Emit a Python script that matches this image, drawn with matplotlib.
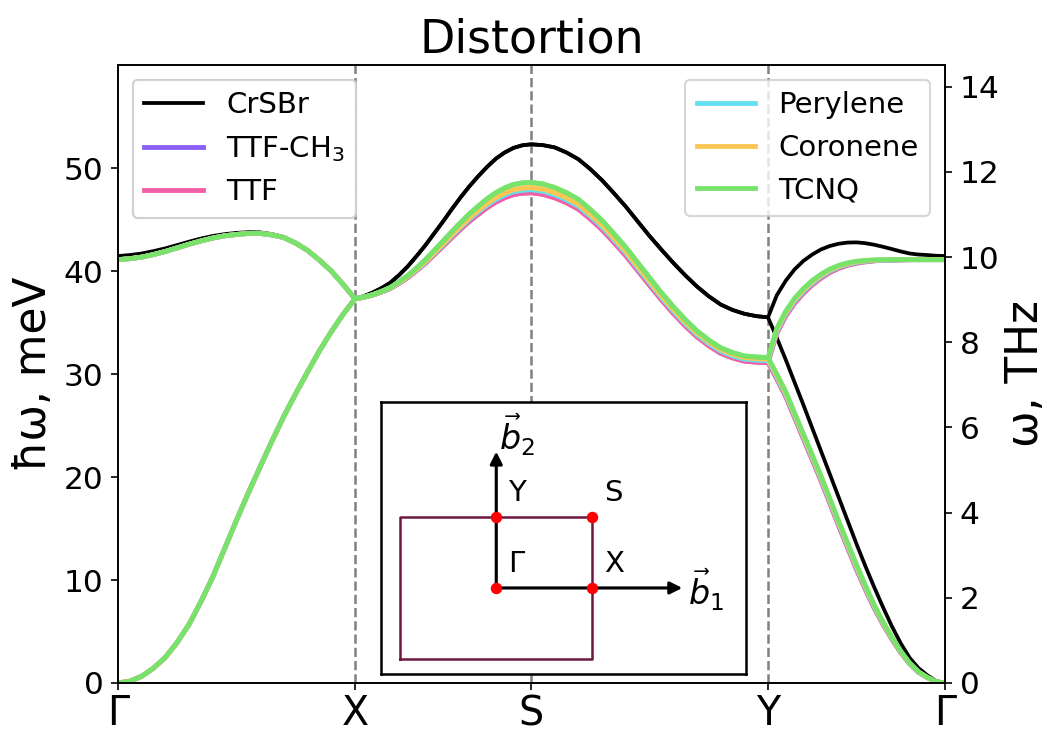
import numpy as np
import matplotlib.pyplot as plt

# segment lengths of the path G-X-S-Y-G (units of |GX|), 21 samples per segment
seg_len = [1.0, 0.743, 1.0, 0.747]
n_samp = 21
kpt_labels = ['Γ', 'X', 'S', 'Y', 'Γ']

# G-X, the same for all the adsorbed systems (meV)
gx_lo = [0.0, 0.17, 0.65, 1.45, 2.5, 3.95, 5.7, 7.9, 10.3, 13.05, 15.8,
         18.45, 21.0, 23.5, 25.9, 28.1, 30.2, 32.25, 34.1, 35.8, 37.3]
gx_hi_mol = [41.1, 41.2, 41.35, 41.6, 41.9, 42.25, 42.6, 42.92, 43.2, 43.42, 43.55,
             43.65, 43.65, 43.5, 43.25, 42.7, 42.0, 41.05, 40.0, 38.7, 37.3]
gx_hi_crsbr = [41.45, 41.55, 41.7, 41.93, 42.2, 42.52, 42.85, 43.15, 43.4, 43.58, 43.7,
               43.77, 43.75, 43.58, 43.3, 42.75, 42.05, 41.07, 40.0, 38.7, 37.3]

# X-S and S-Y, both branches degenerate (meV)
xs_crsbr = [37.3, 37.55, 37.9, 38.33, 38.85, 39.6, 40.45, 41.45, 42.5, 43.65, 44.8,
            46.0, 47.15, 48.22, 49.2, 50.1, 50.9, 51.5, 51.95, 52.2, 52.3]
sy_crsbr = [52.3, 52.22, 52.0, 51.5, 50.85, 49.9, 48.8, 47.55, 46.25, 44.82, 43.4,
            42.08, 40.8, 39.6, 38.5, 37.55, 36.75, 36.22, 35.85, 35.62, 35.5]
xs_ttfch3 = [37.3, 37.46, 37.67, 37.96, 38.31, 38.82, 39.38, 40.06, 40.8, 41.63, 42.45,
             43.3, 44.11, 44.89, 45.58, 46.23, 46.78, 47.2, 47.52, 47.65, 47.7]
sy_ttfch3 = [47.7, 47.55, 47.21, 46.73, 46.1, 45.16, 44.11, 42.87, 41.59, 40.15, 38.72,
             37.31, 36.0, 34.79, 33.72, 32.85, 32.12, 31.67, 31.35, 31.25, 31.2]
xs_ttf = [37.3, 37.45, 37.67, 37.96, 38.3, 38.8, 39.36, 40.04, 40.76, 41.58, 42.4,
          43.24, 44.05, 44.82, 45.5, 46.14, 46.69, 47.11, 47.42, 47.55, 47.6]
sy_ttf = [47.6, 47.45, 47.11, 46.63, 46.0, 45.06, 44.01, 42.77, 41.49, 40.05, 38.62,
          37.21, 35.9, 34.69, 33.62, 32.75, 32.02, 31.57, 31.25, 31.15, 31.1]
xs_perylene = [37.3, 37.46, 37.68, 37.98, 38.33, 38.85, 39.42, 40.11, 40.86, 41.71, 42.55,
               43.42, 44.24, 45.04, 45.74, 46.4, 46.96, 47.39, 47.71, 47.85, 47.9]
sy_perylene = [47.9, 47.75, 47.41, 46.92, 46.29, 45.34, 44.29, 43.04, 41.75, 40.3, 38.87,
               37.45, 36.13, 34.91, 33.84, 32.96, 32.23, 31.77, 31.45, 31.35, 31.3]
xs_coronene = [37.3, 37.46, 37.68, 37.99, 38.35, 38.88, 39.46, 40.17, 40.93, 41.79, 42.65,
               43.53, 44.37, 45.19, 45.9, 46.57, 47.14, 47.58, 47.91, 48.05, 48.1]
sy_coronene = [48.1, 47.95, 47.61, 47.12, 46.48, 45.53, 44.48, 43.22, 41.93, 40.48, 39.04,
               37.62, 36.3, 35.07, 34.0, 33.12, 32.38, 31.92, 31.6, 31.5, 31.45]
xs_tcnq = [37.3, 37.47, 37.7, 38.02, 38.4, 38.95, 39.56, 40.3, 41.1, 42.0, 42.9,
           43.82, 44.7, 45.55, 46.3, 47.0, 47.6, 48.06, 48.4, 48.55, 48.6]
sy_tcnq = [48.6, 48.45, 48.1, 47.6, 46.95, 45.98, 44.9, 43.62, 42.3, 40.82, 39.35,
           37.9, 36.55, 35.3, 34.2, 33.3, 32.55, 32.08, 31.75, 31.65, 31.6]

# Y-G, upper and lower branch (meV)
yg_hi_crsbr = [35.5, 37.65, 39.05, 40.15, 40.98, 41.6, 42.1, 42.43, 42.65, 42.76, 42.78,
               42.7, 42.55, 42.35, 42.13, 41.9, 41.7, 41.6, 41.55, 41.48, 41.45]
yg_lo_crsbr = [35.5, 33.5, 31.4, 29.2, 27.0, 24.75, 22.5, 20.25, 18.0, 15.75, 13.5,
               11.35, 9.3, 7.35, 5.5, 3.85, 2.45, 1.45, 0.75, 0.2, 0.0]
yg_hi_ttfch3 = [31.2, 34.05, 35.7, 36.95, 37.92, 38.72, 39.38, 39.92, 40.31, 40.6, 40.79,
                40.91, 41.0, 41.04, 41.06, 41.08, 41.1, 41.1, 41.1, 41.1, 41.1]
yg_lo_ttfch3 = [31.2, 29.6, 27.9, 25.85, 23.8, 21.75, 19.7, 17.5, 15.3, 13.2, 11.1,
                9.16, 7.32, 5.73, 4.28, 2.98, 1.87, 1.05, 0.53, 0.12, 0.0]
yg_hi_ttf = [31.1, 33.95, 35.6, 36.85, 37.83, 38.63, 39.3, 39.85, 40.25, 40.55, 40.75,
             40.88, 40.98, 41.03, 41.05, 41.08, 41.1, 41.1, 41.1, 41.1, 41.1]
yg_lo_ttf = [31.1, 29.5, 27.8, 25.75, 23.7, 21.65, 19.6, 17.4, 15.2, 13.1, 11.0,
             9.08, 7.25, 5.68, 4.24, 2.95, 1.85, 1.04, 0.52, 0.12, 0.0]
yg_hi_perylene = [31.3, 34.15, 35.8, 37.05, 38.02, 38.81, 39.46, 39.99, 40.37, 40.65, 40.83,
                  40.94, 41.02, 41.05, 41.07, 41.09, 41.1, 41.1, 41.1, 41.1, 41.1]
yg_lo_perylene = [31.3, 29.7, 28.0, 25.95, 23.9, 21.85, 19.8, 17.6, 15.4, 13.3, 11.2,
                  9.25, 7.39, 5.79, 4.33, 3.01, 1.89, 1.06, 0.53, 0.12, 0.0]
yg_hi_coronene = [31.45, 34.3, 35.95, 37.2, 38.16, 38.95, 39.58, 40.1, 40.46, 40.73, 40.89,
                  40.99, 41.05, 41.08, 41.09, 41.09, 41.1, 41.1, 41.1, 41.1, 41.1]
yg_lo_coronene = [31.45, 29.85, 28.15, 26.1, 24.05, 22.0, 19.95, 17.75, 15.55, 13.45, 11.35,
                  9.37, 7.5, 5.87, 4.39, 3.06, 1.92, 1.08, 0.54, 0.13, 0.0]
yg_hi_tcnq = [31.6, 34.45, 36.1, 37.35, 38.3, 39.08, 39.7, 40.2, 40.55, 40.8, 40.95,
              41.03, 41.08, 41.1, 41.1, 41.1, 41.1, 41.1, 41.1, 41.1, 41.1]
yg_lo_tcnq = [31.6, 30.0, 28.3, 26.25, 24.2, 22.15, 20.1, 17.9, 15.7, 13.6, 11.5,
              9.5, 7.6, 5.95, 4.45, 3.1, 1.95, 1.1, 0.55, 0.13, 0.0]

names = ['CrSBr', 'TTF-CH$_3$', 'TTF', 'Perylene', 'Coronene', 'TCNQ']
colors = ['black', '#8b5ff5', '#f35fa6', '#62dff0', '#fcc655', '#77e36b']

bands = [
    (gx_hi_crsbr, xs_crsbr, sy_crsbr, yg_hi_crsbr, yg_lo_crsbr),
    (gx_hi_mol, xs_ttfch3, sy_ttfch3, yg_hi_ttfch3, yg_lo_ttfch3),
    (gx_hi_mol, xs_ttf, sy_ttf, yg_hi_ttf, yg_lo_ttf),
    (gx_hi_mol, xs_perylene, sy_perylene, yg_hi_perylene, yg_lo_perylene),
    (gx_hi_mol, xs_coronene, sy_coronene, yg_hi_coronene, yg_lo_coronene),
    (gx_hi_mol, xs_tcnq, sy_tcnq, yg_hi_tcnq, yg_lo_tcnq),
]

meV2THz = 0.241799

# k-path coordinates
kticks = np.concatenate([[0], np.cumsum(seg_len)])
f = np.linspace(0, 1, n_samp)
k_path = np.concatenate([kticks[i] + f * seg_len[i] for i in range(4)])

fig = plt.figure(figsize=(1048 / 150, 733 / 150), dpi=150)
ax = fig.add_axes([118 / 1048, 1 - 683 / 733, (945 - 118) / 1048, (683 - 65) / 733])

lines = []
for name, col, (gxh, xs, sy, ygh, ygl) in zip(names, colors, bands):
    lw = 1.8 if col == 'black' else 2.3
    lo = np.concatenate([gx_lo, xs, sy, ygl])
    hi = np.concatenate([gxh, xs, sy, ygh])
    l, = ax.plot(k_path, lo, color=col, lw=lw, label=name)
    ax.plot(k_path, hi, color=col, lw=lw)
    lines.append(l)

for kk in kticks[1:-1]:
    ax.axvline(kk, color='gray', ls='--', lw=1.2, zorder=0)

ax.set_xlim(kticks[0], kticks[-1])
ax.set_ylim(0, 60)
ax.set_xticks(kticks)
ax.set_xticklabels(kpt_labels, fontsize=19)
ax.tick_params(axis='x', pad=2)
ax.set_yticks(range(0, 60, 10))
ax.tick_params(axis='y', labelsize=15)
ax.set_ylabel('ħω, meV', fontsize=21)
ax.set_title('Distortion', fontsize=22)

ax2 = ax.twinx()
ax2.set_ylim(0, 60 * meV2THz)
ax2.set_yticks(range(0, 15, 2))
ax2.tick_params(axis='y', labelsize=15)
ax2.set_ylabel('ω, THz', fontsize=21, labelpad=2)

leg1 = ax.legend(handles=lines[:3], loc='upper left', fontsize=14)
ax.add_artist(leg1)
ax2.legend(handles=lines[3:], loc='upper right', fontsize=14)

# Brillouin zone sketch
ins = fig.add_axes([381 / 1048, 1 - 674 / 733, (746 - 381) / 1048, (674 - 402) / 733])
ins.set_xlim(-1.2, 2.6)
ins.set_ylim(-0.9, 1.945)
ins.set_xticks([])
ins.set_yticks([])
for s in ins.spines.values():
    s.set_linewidth(1.2)
gx, gy = 1.0, 0.743
ins.plot([-gx, gx, gx, -gx, -gx], [-gy, -gy, gy, gy, -gy], color='#6d1842', lw=1.2)
ins.annotate('', xy=(1.98, 0), xytext=(0, 0),
             arrowprops=dict(arrowstyle='-|>', color='k', lw=1.5, mutation_scale=12))
ins.annotate('', xy=(0, 1.47), xytext=(0, 0),
             arrowprops=dict(arrowstyle='-|>', color='k', lw=1.5, mutation_scale=12))
ins.plot([0, gx, 0, gx], [0, 0, gy, gy], 'o', color='red', ms=4.5, zorder=5)
for lbl, px, py in [('Γ', 0, 0), ('X', gx, 0), ('Y', 0, gy), ('S', gx, gy)]:
    ins.text(px + 0.12, py + 0.1, lbl, fontsize=14, ha='left', va='bottom')
ins.text(2.0, -0.02, r'$\vec{b}_1$', fontsize=16, ha='left', va='center')
ins.text(0.03, 1.36, r'$\vec{b}_2$', fontsize=16, ha='left', va='bottom')

fig.savefig('out.png', dpi=150)
